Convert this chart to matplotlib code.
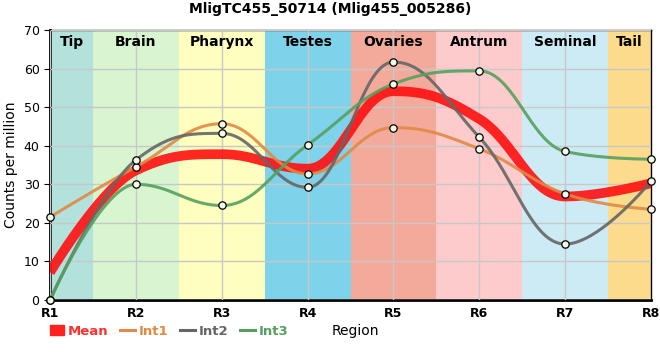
import numpy as np
import matplotlib
matplotlib.use("Agg")
import matplotlib.pyplot as plt
from matplotlib.lines import Line2D
from matplotlib.patches import Patch

# data
regions = ["R1", "R2", "R3", "R4", "R5", "R6", "R7", "R8"]
bands = ["Tip", "Brain", "Pharynx", "Testes", "Ovaries", "Antrum", "Seminal", "Tail"]
band_colors = ["#b3e2dd", "#d8f5d0", "#fefebe", "#7ed3ea", "#f4aa9b", "#fdcbcb", "#cdebf5", "#fddb8d"]
int1 = [21.5, 34.5, 45.7, 32.7, 44.7, 39.2, 27.5, 23.5]
int2 = [0.0, 36.3, 43.2, 29.2, 61.7, 42.2, 14.5, 30.8]
int3 = [0.0, 30.0, 24.5, 40.2, 56.0, 59.4, 38.5, 36.5]
mean = list(np.mean([int1, int2, int3], axis=0))


def spline(x, y, n=40, smoothing=1.5):
    # bezier spline the way highcharts draws its "spline" series
    x = np.asarray(x, float); y = np.asarray(y, float)
    k = len(x)
    lc = [(x[i], y[i]) for i in range(k)]
    rc = [(x[i], y[i]) for i in range(k)]
    d = smoothing + 1
    for i in range(1, k - 1):
        lx = (smoothing * x[i] + x[i - 1]) / d
        ly = (smoothing * y[i] + y[i - 1]) / d
        rx = (smoothing * x[i] + x[i + 1]) / d
        ry = (smoothing * y[i] + y[i + 1]) / d
        corr = (ry - ly) * (rx - x[i]) / (rx - lx) + y[i] - ry
        ly += corr; ry += corr
        if ly > y[i - 1] and ly > y[i]:
            ly = max(y[i - 1], y[i]); ry = 2 * y[i] - ly
        elif ly < y[i - 1] and ly < y[i]:
            ly = min(y[i - 1], y[i]); ry = 2 * y[i] - ly
        if ry > y[i + 1] and ry > y[i]:
            ry = max(y[i + 1], y[i]); ly = 2 * y[i] - ry
        elif ry < y[i + 1] and ry < y[i]:
            ry = min(y[i + 1], y[i]); ly = 2 * y[i] - ry
        lc[i] = (lx, ly); rc[i] = (rx, ry)
    xs, ys = [], []
    t = np.linspace(0, 1, n)
    for i in range(k - 1):
        p0 = np.array([x[i], y[i]]); p1 = np.array(rc[i])
        p2 = np.array(lc[i + 1]); p3 = np.array([x[i + 1], y[i + 1]])
        b = ((1 - t)**3)[:, None] * p0 + (3 * (1 - t)**2 * t)[:, None] * p1 \
            + (3 * (1 - t) * t**2)[:, None] * p2 + (t**3)[:, None] * p3
        xs.append(b[:, 0]); ys.append(b[:, 1])
    return np.concatenate(xs), np.concatenate(ys)


fig = plt.figure(figsize=(6.6, 3.6), dpi=100)
ax = fig.add_axes([0.0758, 0.1667, 0.9106, 0.75])

x = np.arange(len(regions))
for i, (b, c) in enumerate(zip(bands, band_colors)):
    ax.axvspan(max(i - 0.5, 0), min(i + 0.5, len(regions) - 1), color=c, lw=0, zorder=0)
    ax.text(i if 0 < i < 7 else (0.25 if i == 0 else 6.75), 68.7, b, ha="center", va="top",
            fontsize=10, fontweight="bold", zorder=5)

ax.grid(True, color="#c8c8c8", lw=1, zorder=1)
ax.set_axisbelow(False)
for gl in ax.get_xgridlines() + ax.get_ygridlines():
    gl.set_zorder(1)

line_specs = [(int1, "#e08a45", "Int1"), (int2, "#666666", "Int2"), (int3, "#55a060", "Int3")]
xs, ys = spline(x, mean)
ax.plot(xs, ys, color="#ff1010", lw=7, alpha=0.9, zorder=3, solid_capstyle="butt")
for vals, col, lab in line_specs:
    xs, ys = spline(x, vals)
    ax.plot(xs, ys, color=col, lw=2.2, alpha=0.9, zorder=4)
for vals, col, lab in line_specs:
    ax.scatter(x, vals, s=28, facecolor="#f4f8e4", edgecolor="black", lw=0.9, zorder=6, clip_on=False)

ax.set_xlim(0, 7)
ax.set_ylim(0, 70)
ax.set_xticks(x)
ax.set_xticklabels(regions, fontweight="bold", fontsize=9)
ax.set_yticks(range(0, 71, 10))
ax.tick_params(axis="y", labelsize=9, length=4)
ax.tick_params(axis="x", length=0, pad=5)
for s in ["left", "bottom"]:
    ax.spines[s].set_linewidth(2)
for s in ["top", "right"]:
    ax.spines[s].set_linewidth(1)
ax.set_ylabel("Counts per million", fontsize=10)

fig.suptitle("MligTC455_50714 (Mlig455_005286)", x=0.5, y=0.995, fontsize=10, fontweight="bold")

handles = [Patch(color="#ff2020", label="Mean")] + \
    [Line2D([0], [0], color=c, lw=2.2, label=l) for _, c, l in line_specs]
leg = fig.legend(handles=handles, loc="center left", bbox_to_anchor=(0.075, 0.08), ncol=4,
                 frameon=False, fontsize=9.5, handlelength=1.1, handletextpad=0.3,
                 columnspacing=0.9, borderpad=0, borderaxespad=0)
for t, c in zip(leg.get_texts(), ["#ff3030", "#e08a45", "#666666", "#55a060"]):
    t.set_color(c)
    t.set_fontweight("bold")
fig.text(0.502, 0.08, "Region", fontsize=10, va="center")

fig.savefig("out.png", dpi=100)
